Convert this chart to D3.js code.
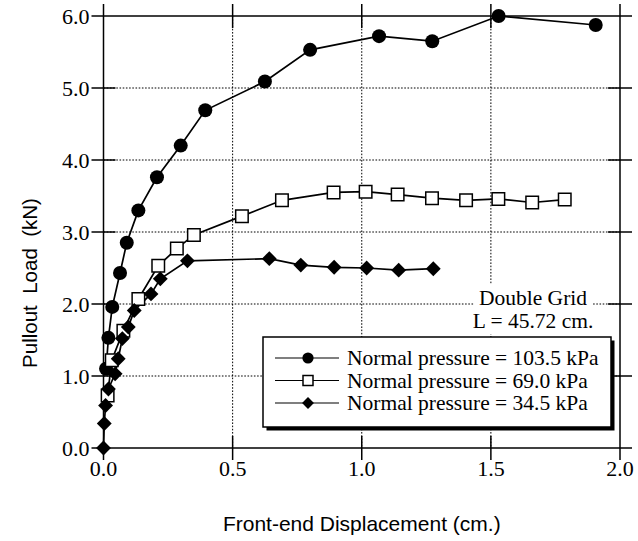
<!DOCTYPE html>
<html>
<head>
<meta charset="utf-8">
<script src="https://cdn.jsdelivr.net/npm/d3@7/dist/d3.min.js"></script>
<style>
  html, body { margin: 0; padding: 0; background: #fff; }
  svg { display: block; }
</style>
</head>
<body>
<script>
// Pullout load vs. front-end displacement, double grid, three normal pressures
const xTicks = [0.0, 0.5, 1.0, 1.5, 2.0];
const yTicks = [0.0, 1.0, 2.0, 3.0, 4.0, 5.0, 6.0];

const seriesNames = ["Normal pressure = 103.5 kPa", "Normal pressure = 69.0 kPa", "Normal pressure = 34.5 kPa"];

const disp1035 = [0.010, 0.019, 0.034, 0.064, 0.090, 0.135, 0.207, 0.299, 0.394, 0.625, 0.800, 1.067, 1.273, 1.530, 1.906];
const load1035 = [1.10, 1.53, 1.96, 2.43, 2.85, 3.30, 3.76, 4.20, 4.69, 5.09, 5.53, 5.72, 5.65, 6.00, 5.875];

const disp690 = [0.016, 0.032, 0.077, 0.135, 0.212, 0.284, 0.350, 0.536, 0.691, 0.891, 1.015, 1.139, 1.272, 1.404, 1.529, 1.660, 1.786];
const load690 = [0.73, 1.22, 1.63, 2.07, 2.53, 2.77, 2.96, 3.22, 3.44, 3.55, 3.56, 3.52, 3.47, 3.44, 3.46, 3.41, 3.45];

const disp345 = [0.000, 0.003, 0.008, 0.019, 0.045, 0.057, 0.073, 0.096, 0.119, 0.184, 0.220, 0.325, 0.642, 0.764, 0.893, 1.019, 1.143, 1.277];
const load345 = [0.00, 0.34, 0.59, 0.82, 1.03, 1.24, 1.52, 1.68, 1.91, 2.14, 2.35, 2.60, 2.63, 2.54, 2.51, 2.50, 2.47, 2.49];

const noteLines = ["Double Grid", "L = 45.72 cm."];

const W = 638, H = 541;
const serif = "'Liberation Serif', 'Times New Roman', serif";
const sans = "'Liberation Sans', Arial, Helvetica, sans-serif";

const svg = d3.select("body").append("svg").attr("width", W).attr("height", H);

const x = d3.scaleLinear().domain([0, 2]).range([103.5, 620]);
const y = d3.scaleLinear().domain([0, 6]).range([448, 16]);

const x0 = x(0), x1 = x(2), y0 = y(0), y1 = y(6);
const T = 12; // tick half-length

// dotted grid
const grid = svg.append("g").attr("stroke", "#000").attr("stroke-width", 1).attr("stroke-dasharray", "1.6,1.6");
xTicks.slice(1, -1).forEach(v => grid.append("line").attr("x1", x(v)).attr("x2", x(v)).attr("y1", y1).attr("y2", y0));
yTicks.slice(1, -1).forEach(v => grid.append("line").attr("x1", x0).attr("x2", x1).attr("y1", y(v)).attr("y2", y(v)));

// frame: each edge runs past the corners like a crossing tick
const frame = svg.append("g").attr("stroke", "#000").attr("stroke-width", 1.5);
frame.append("line").attr("x1", x0).attr("x2", x0).attr("y1", y1 - T).attr("y2", y0 + T);
frame.append("line").attr("x1", x1).attr("x2", x1).attr("y1", y1 - T).attr("y2", y0 + T);
frame.append("line").attr("x1", x0 - T).attr("x2", x1 + T).attr("y1", y0).attr("y2", y0);
frame.append("line").attr("x1", x0 - T).attr("x2", x1 + T).attr("y1", y1).attr("y2", y1);

// crossing ticks on all four sides
yTicks.slice(1, -1).forEach(v => {
  frame.append("line").attr("x1", x0 - T).attr("x2", x0 + T).attr("y1", y(v)).attr("y2", y(v));
  frame.append("line").attr("x1", x1 - T).attr("x2", x1 + T).attr("y1", y(v)).attr("y2", y(v));
});
xTicks.slice(1, -1).forEach(v => {
  frame.append("line").attr("x1", x(v)).attr("x2", x(v)).attr("y1", y0 - T).attr("y2", y0 + T);
  frame.append("line").attr("x1", x(v)).attr("x2", x(v)).attr("y1", y1 - T).attr("y2", y1 + T);
});

// tick labels
svg.append("g").selectAll("text").data(yTicks).join("text")
  .attr("x", x0 - T - 2).attr("y", d => y(d)).attr("dy", "0.35em")
  .attr("text-anchor", "end").attr("font-family", serif).attr("font-size", 22)
  .text(d => d3.format(".1f")(d));
svg.append("g").selectAll("text").data(xTicks).join("text")
  .attr("x", d => x(d)).attr("y", 476)
  .attr("text-anchor", "middle").attr("font-family", serif).attr("font-size", 22)
  .text(d => d3.format(".1f")(d));

// axis titles
svg.append("text").attr("x", (x0 + x1) / 2).attr("y", 531)
  .attr("text-anchor", "middle").attr("font-family", sans).attr("font-size", 21)
  .text("Front-end Displacement (cm.)");
svg.append("text").attr("transform", "translate(37,283) rotate(-90)")
  .attr("text-anchor", "middle").attr("font-family", sans).attr("font-size", 20.5)
  .style("white-space", "pre")
  .text("Pullout  Load  (kN)");

// annotation on a white patch
const note = svg.append("g");
note.append("rect").attr("x", 474).attr("y", 284).attr("width", 118).attr("height", 50).attr("fill", "#fff");
noteLines.forEach((t, i) => note.append("text")
  .attr("x", 533).attr("y", 305 + i * 23).attr("text-anchor", "middle")
  .attr("font-family", serif).attr("font-size", 21.5).text(t));

// marker shapes
const symCircle = d3.symbol().type(d3.symbolCircle);
const symSquare = d3.symbol().type(d3.symbolSquare);
function addMarker(g, kind, cx, cy, scale) {
  if (kind === 0) {
    g.append("path").attr("d", symCircle.size(Math.PI * Math.pow(7 * scale, 2))())
      .attr("transform", `translate(${cx},${cy})`).attr("fill", "#000");
  } else if (kind === 1) {
    g.append("path").attr("d", symSquare.size(Math.pow(12.5 * scale, 2))())
      .attr("transform", `translate(${cx},${cy})`).attr("fill", "#fff").attr("stroke", "#000").attr("stroke-width", 1.5);
  } else {
    g.append("path").attr("d", symSquare.size(Math.pow(10.5 * scale, 2))())
      .attr("transform", `translate(${cx},${cy}) rotate(45)`).attr("fill", "#000");
  }
}

// series
const series = [
  { xs: disp1035, ys: load1035 },
  { xs: disp690, ys: load690 },
  { xs: disp345, ys: load345 }
];
const line = d3.line().x(d => x(d[0])).y(d => y(d[1]));
const plot = svg.append("g");
series.forEach((s, k) => {
  const pts = s.xs.map((v, i) => [v, s.ys[i]]);
  plot.append("path").attr("d", line(pts)).attr("fill", "none").attr("stroke", "#000").attr("stroke-width", 1.7);
});
series.forEach((s, k) => {
  s.xs.forEach((v, i) => addMarker(plot, k, x(v), y(s.ys[i]), 1));
});

// legend with drop shadow
const lg = svg.append("g");
const lx = 263, ly = 337, lw = 348, lh = 90;
lg.append("rect").attr("x", lx + 3.5).attr("y", ly + 3.5).attr("width", lw).attr("height", lh).attr("fill", "#000");
lg.append("rect").attr("x", lx).attr("y", ly).attr("width", lw).attr("height", lh).attr("fill", "#fff").attr("stroke", "#000").attr("stroke-width", 1.5);
seriesNames.forEach((name, k) => {
  const cy = 358 + k * 22.5;
  lg.append("line").attr("x1", 275).attr("x2", 339).attr("y1", cy).attr("y2", cy).attr("stroke", "#000").attr("stroke-width", 1.2);
  addMarker(lg, k, 308, cy, 0.8);
  lg.append("text").attr("x", 347).attr("y", cy + 7).attr("font-family", serif).attr("font-size", 21.5).text(name);
});
</script>
</body>
</html>
